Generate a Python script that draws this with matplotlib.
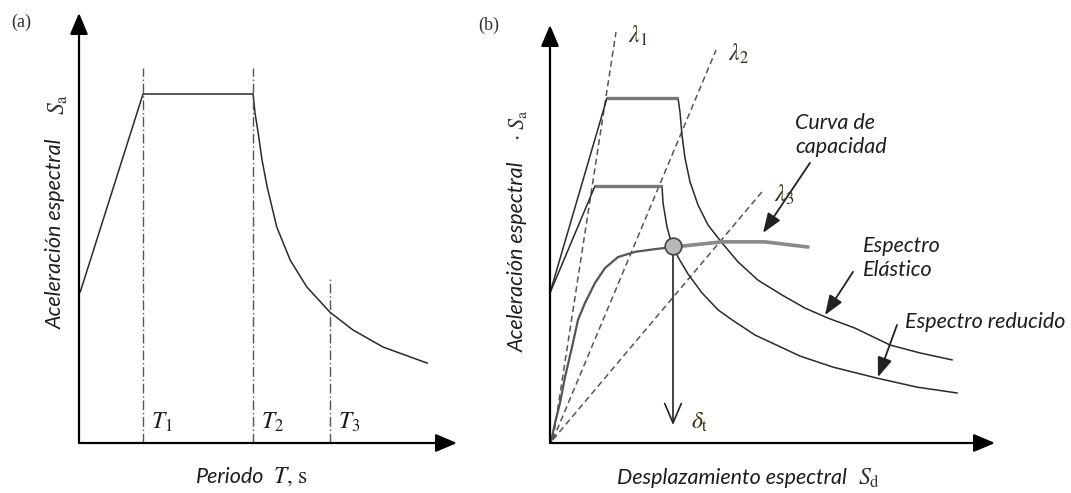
import matplotlib.pyplot as plt

plt.rcParams['mathtext.fontset'] = 'stix'

# ---- (a) design spectrum: period (T1 = 1) vs normalised spectral acceleration
periodo = [0.02, 1.0, 2.72, 2.75, 2.80, 2.86, 2.94, 3.09, 3.30, 3.56, 3.92, 4.28, 4.75, 5.44]
sa_a = [0.433, 1.0, 1.0, 0.946, 0.888, 0.811, 0.734, 0.619, 0.524, 0.447, 0.375, 0.324, 0.275, 0.229]
t_marks = [1.0, 2.72, 3.92]
t_tops = [1.075, 1.075, 0.476]
t_labels = ['$T_1$', '$T_2$', '$T_3$']

# ---- (b) ADRS: spectral displacement vs spectral acceleration
sd_el = [0, 0.57, 1.28, 1.30, 1.32, 1.35, 1.40, 1.48, 1.58, 1.72, 1.88, 2.08, 2.32, 2.55,
         2.78, 3.05, 3.40, 3.70, 4.02]
sa_el = [0.435, 1.0, 1.0, 0.959, 0.893, 0.826, 0.757, 0.690, 0.632, 0.580, 0.525, 0.472, 0.429,
         0.391, 0.362, 0.333, 0.284, 0.261, 0.241]
sd_red = [0, 0.45, 1.12, 1.13, 1.17, 1.22, 1.28, 1.38, 1.52, 1.68, 1.82, 2.05, 2.50, 2.83,
          3.27, 3.67, 4.07]
sa_red = [0.435, 0.745, 0.745, 0.696, 0.626, 0.574, 0.539, 0.490, 0.435, 0.386, 0.357, 0.313,
          0.252, 0.220, 0.188, 0.162, 0.145]
sd_cap = [0.01, 0.05, 0.10, 0.15, 0.22, 0.28, 0.35, 0.45, 0.55, 0.68, 0.85, 1.05, 1.23, 1.72,
          2.15, 2.58]
sa_cap = [0.003, 0.058, 0.116, 0.191, 0.278, 0.357, 0.406, 0.464, 0.507, 0.539, 0.554, 0.562,
          0.568, 0.583, 0.583, 0.568]
lambda_sd = [0.66, 1.66, 2.12]
lambda_sa = [1.191, 1.139, 0.728]
lambda_labels = [r'$\lambda_1$', r'$\lambda_2$', r'$\lambda_3$']
pp_sd, pp_sa = 1.23, 0.571
delta_foot = 0.052

W, H = 1071, 493
fig = plt.figure(figsize=(W / 100, H / 100), dpi=100)
fig.patch.set_facecolor('white')

txt = dict(family='Lato', style='italic', color='#1c1c1c', fontsize=15.5)
ink = '#2a2a2a'


def px_axes(x0, y0, x1, y1):
    # axes rectangle from pixel corners (origin x0,y0 bottom-left; x1,y1 arrow tips)
    return fig.add_axes([x0 / W, 1 - y0 / H, (x1 - x0) / W, (y0 - y1) / H])


def axis_arrows(ax, xmax, ymax):
    ap = dict(arrowstyle='-|>,head_length=1.3,head_width=0.55', lw=1.6,
              color='black', shrinkA=0, shrinkB=0)
    ax.annotate('', xy=(xmax, 0), xytext=(0, 0), arrowprops=ap, annotation_clip=False)
    ax.annotate('', xy=(0, ymax), xytext=(0, 0), arrowprops=ap, annotation_clip=False)


# ======================= panel (a)
axa = px_axes(79, 443, 457, 13)
xa_max, ya_max = (457 - 79) / 64, (443 - 13) / 349
axa.set_xlim(0, xa_max)
axa.set_ylim(0, ya_max)
axa.axis('off')
axis_arrows(axa, xa_max, ya_max)

axa.plot(periodo, sa_a, color=ink, lw=1.1, clip_on=False)
for t, top, lab in zip(t_marks, t_tops, t_labels):
    axa.plot([t, t], [0, top], color='#555555', lw=1.0, dashes=(7, 2, 1, 2))
    axa.text(t + 0.12, 0.06, lab, fontsize=17, color='#1c1c1c', ha='left', va='center')

fig.text(21 / W, 1 - 22 / H, '(a)', family='Liberation Serif', fontsize=13, color='#333333',
         ha='center', va='center')
fig.text(56 / W, 1 - 234 / H, 'Aceleración espectral', rotation=90, ha='center', va='center', **txt)
fig.text(58 / W, 1 - 104 / H, r'$S_\mathrm{a}$', rotation=90, ha='center', va='center',
         fontsize=17, color='#333333')
fig.text(230 / W, 1 - 477 / H, 'Periodo', ha='center', va='center', **txt)
fig.text(291 / W, 1 - 477 / H, r'$T$, s', ha='center', va='center', fontsize=17,
         family='STIXGeneral', color='#1c1c1c')

# ======================= panel (b)
axb = px_axes(550, 443, 995, 25)
xb_max, yb_max = (995 - 550) / 100, (443 - 25) / 345
axb.set_xlim(0, xb_max)
axb.set_ylim(0, yb_max)
axb.axis('off')
axis_arrows(axb, xb_max, yb_max)

# demand lines
for sd, sa, lab in zip(lambda_sd, lambda_sa, lambda_labels):
    axb.plot([0.03, sd], [0.01, sa], color='#555555', lw=1.1, dashes=(4, 2.5))
    axb.text(sd + 0.12, sa - 0.01, lab, fontsize=17, color='#3a2a10', ha='left', va='center')

# spectra
axb.plot(sd_el, sa_el, color=ink, lw=1.1)
axb.plot(sd_el[1:3], sa_el[1:3], color='#777777', lw=2.4, solid_capstyle='butt')
axb.plot(sd_red, sa_red, color=ink, lw=1.1)
axb.plot(sd_red[1:3], sa_red[1:3], color='#777777', lw=2.4, solid_capstyle='butt')
axb.plot(sd_cap, sa_cap, color='#555555', lw=1.6)
axb.plot(sd_cap[-4:], sa_cap[-4:], color='#8a8a8a', lw=2.6, solid_capstyle='round')

# performance point and target displacement
axb.plot(pp_sd, pp_sa, 'o', ms=12, mfc='#b8b8b8', mec='#444444', mew=1.2, zorder=5)
axb.annotate('', xy=(pp_sd, delta_foot), xytext=(pp_sd, pp_sa),
             arrowprops=dict(arrowstyle='->,head_length=1.4,head_width=0.6', lw=1.2,
                             color='#222222', shrinkA=0, shrinkB=0))
axb.text(pp_sd + 0.18, delta_foot + 0.01, r'$\delta_\mathrm{t}$', fontsize=17, color='#3a2a10',
         ha='left', va='center')

# callouts
head = dict(arrowstyle='-|>,head_length=1.2,head_width=0.45', lw=1.3, color='#222222',
            shrinkA=0, shrinkB=0)
axb.text(2.45, 0.893, 'Curva de\ncapacidad', ha='left', va='center', linespacing=1.2, **txt)
axb.annotate('', xy=(2.13, 0.609), xytext=(2.60, 0.812), arrowprops=head)
axb.text(3.13, 0.536, 'Espectro\nElástico', ha='left', va='center', linespacing=1.2, **txt)
axb.annotate('', xy=(2.75, 0.371), xytext=(3.03, 0.496), arrowprops=head)
axb.text(3.55, 0.351, 'Espectro reducido', ha='left', va='center', **txt)
axb.annotate('', xy=(3.28, 0.191), xytext=(3.47, 0.342), arrowprops=head)

fig.text(489 / W, 1 - 25 / H, '(b)', family='Liberation Serif', fontsize=13, color='#333333',
         ha='center', va='center')
fig.text(518 / W, 1 - 257 / H, 'Aceleración espectral', rotation=90, ha='center', va='center', **txt)
fig.text(518 / W, 1 - 125 / H, r'$\cdot\ S_\mathrm{a}$', rotation=90, ha='center', va='center',
         fontsize=16, color='#333333')
fig.text(732 / W, 1 - 478 / H, 'Desplazamiento espectral', ha='center', va='center', **txt)
fig.text(869 / W, 1 - 478 / H, r'$S_\mathrm{d}$', ha='center', va='center', fontsize=17,
         color='#333333')

fig.savefig('out.png', dpi=100)
